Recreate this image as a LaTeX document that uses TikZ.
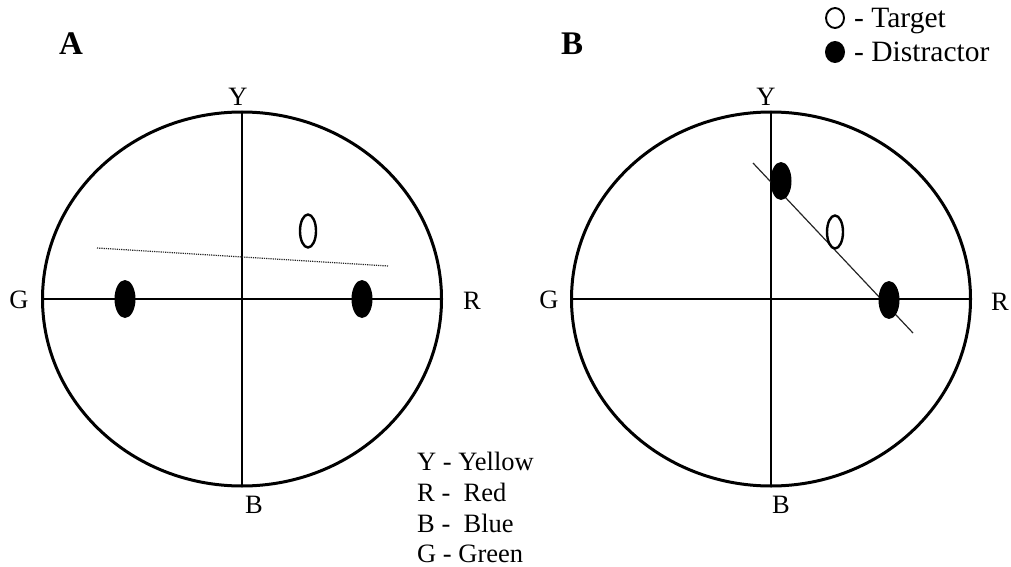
\documentclass[tikz,border=0pt]{standalone}
\usepackage{fontspec}
\setmainfont{Liberation Serif}
\usetikzlibrary{shapes.geometric}
\begin{document}
\begin{tikzpicture}[x=1pt,y=-1pt,
  ring/.style={draw, ellipse, line width=3pt, inner sep=0pt, outer sep=0pt, minimum width=399pt, minimum height=374pt},
  axis/.style={line width=2.6pt},
  fitline/.style={line width=1.2pt, black!85},
  lab/.style={font=\fontsize{26.5}{30}\selectfont, inner sep=0pt},
  leg/.style={font=\fontsize{29.5}{33}\selectfont, inner sep=0pt},
  panel/.style={font=\fontsize{33}{38}\selectfont\bfseries, inner sep=0pt},
  target/.style={draw, ellipse, line width=2.4pt, inner sep=0pt, minimum width=16pt, minimum height=33pt},
  distr/.style={fill=black, ellipse, inner sep=0pt, minimum width=21pt, minimum height=38pt}]
\useasboundingbox (0,0) rectangle (1011,567);
% Panel A
\node[panel] (pA) at (71,44) {A};
\node[ring] (rA) at (242,299) {};
\draw[axis] (rA.west) -- (rA.east);
\draw[axis] (rA.north) -- (rA.south);
\node[lab] (yA) at (238,97) {Y};
\node[lab] (gA) at (19,300) {G};
\node[lab] (rlA) at (472,301) {R};
\node[lab] (bA) at (254,505) {B};
\coordinate (lA1) at (97,248);
\coordinate (lA2) at (388,266);
\draw[fitline, densely dotted] (lA1) -- (lA2);
\node[target] (tA) at (308,231) {};
\node[distr] (dA1) at (125,299) {};
\node[distr] (dA2) at (362,299) {};
% Panel B
\node[panel] (pB) at (572,44) {B};
\node[ring] (rB) at (771,299) {};
\draw[axis] (rB.west) -- (rB.east);
\draw[axis] (rB.north) -- (rB.south);
\node[lab] (yB) at (766,97) {Y};
\node[lab] (gB) at (549,300) {G};
\node[lab] (rlB) at (1000,302) {R};
\node[lab] (bB) at (781,505) {B};
\coordinate (lB1) at (753,163);
\coordinate (lB2) at (913,333);
\draw[fitline] (lB1) -- (lB2);
\node[distr] (dB1) at (781,181) {};
\node[target] (tB) at (835,232) {};
\node[distr] (dB2) at (889,300) {};
% Legend top
\node[draw, ellipse, line width=1.9pt, inner sep=0pt, minimum width=18pt, minimum height=20pt] (lgT) at (835,18) {};
\node[leg, anchor=base west] (lgTt) at (854,28) {- Target};
\node[fill=black, ellipse, inner sep=0pt, minimum width=20pt, minimum height=22pt] (lgD) at (835,52) {};
\node[leg, anchor=base west] (lgDt) at (854,62) {- Distractor};
% Legend bottom
\node[lab, anchor=base west] (k1) at (417,470) {Y - Yellow};
\node[lab, anchor=base west] (k2) at (417,501) {R -\ \ Red};
\node[lab, anchor=base west] (k3) at (417,532) {B -\ \ Blue};
\node[lab, anchor=base west] (k4) at (417,562) {G - Green};
\end{tikzpicture}
\end{document}
